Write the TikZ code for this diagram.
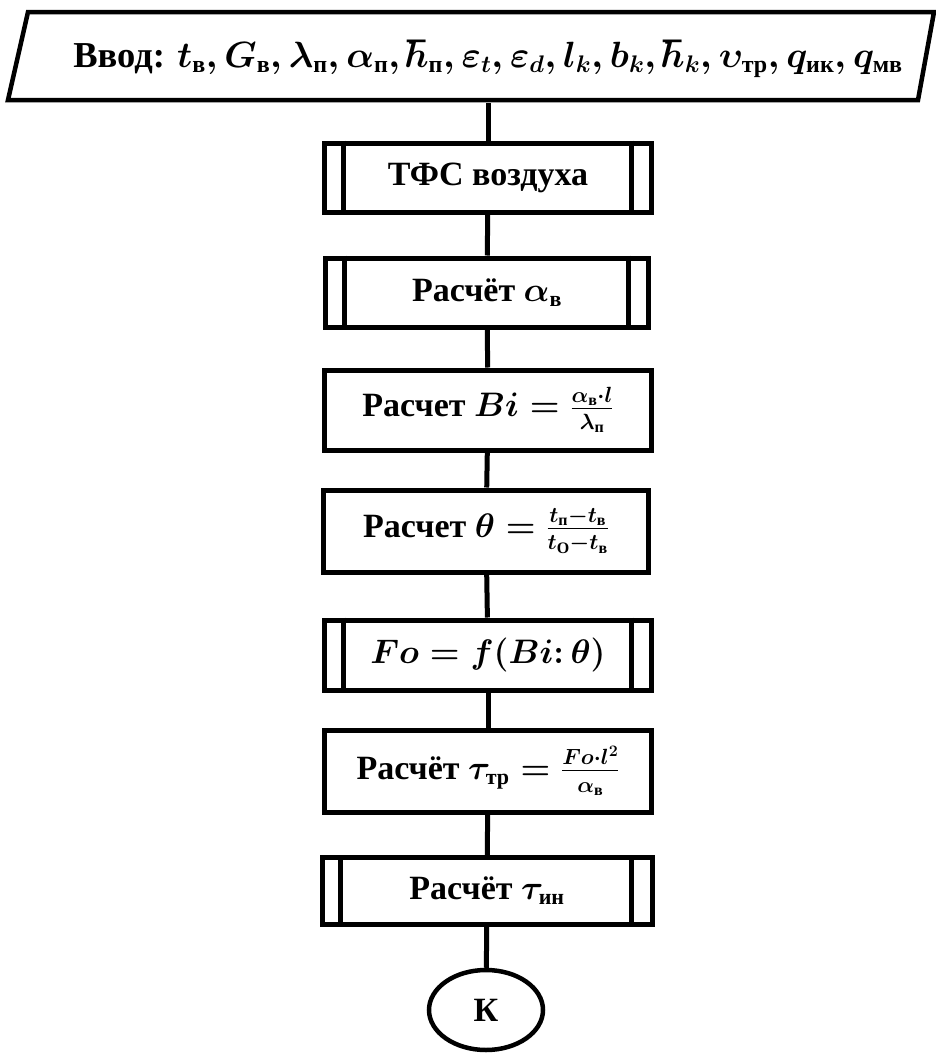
\RequirePackage{fix-cm}
\documentclass[tikz,border=0pt]{standalone}
\usepackage{amsmath}
\usepackage{fontspec}
\setmainfont{Liberation Serif}
\usetikzlibrary{shapes.geometric}
\DeclareMathSizes{34}{34}{22}{16}
\DeclareMathSizes{36.5}{36.5}{24}{18}
\tikzset{
  every node/.style={font=\fontsize{34}{40}\selectfont\bfseries\boldmath},
  blk/.style={draw, line width=5pt, minimum width=327pt, inner sep=0pt, align=center},
  conn/.style={line width=5pt},
  inner/.style={line width=5pt}
}
\newcommand{\tx}[1]{\text{#1}}
\begin{document}
\begin{tikzpicture}[x=1pt,y=-1pt]
\useasboundingbox (0,0) rectangle (936,1055);
% input parallelogram
\draw[line width=4.5pt, line join=miter] (28,12) -- (934,12) -- (918,100) -- (8,100) -- cycle;
\node[minimum width=880pt, minimum height=88pt, inner sep=0pt, font=\fontsize{36.5}{42}\selectfont\bfseries\boldmath] (in) at (488,59)
  {Ввод: $t_{\tx{в}}, G_{\tx{в}}, \lambda_{\tx{п}}, \alpha_{\tx{п}}, \hbar_{\tx{п}}, \varepsilon_t, \varepsilon_d, l_k, b_k, \hbar_k, \upsilon_{\tx{тр}}, q_{\tx{ик}}, q_{\tx{мв}}$};
% blocks
\node[blk, minimum height=69pt] (b1) at (488,177.5) {ТФС воздуха};
\node[blk, minimum height=69pt, minimum width=323pt] (b2) at (487,292.5) {Расчёт $\alpha_{\tx{в}}$};
\node[blk, minimum height=80pt] (b3) at (488,410) {Расчет $Bi = \frac{\alpha_{\tx{в}}\cdot l}{\lambda_{\tx{п}}}$};
\node[blk, minimum height=82pt, minimum width=325pt] (b4) at (486,531) {Расчет $\theta = \frac{t_{\tx{п}}-t_{\tx{в}}}{t_{\mathrm{O}}-t_{\tx{в}}}$};
\node[blk, minimum height=70pt] (b5) at (488,655) {$Fo = f(Bi{:}\,\theta)$};
\node[blk, minimum height=82pt] (b6) at (488,771) {Расчёт $\tau_{\tx{тр}} = \frac{Fo\cdot l^2}{\alpha_{\tx{в}}}$};
\node[blk, minimum height=67pt, minimum width=330pt] (b7) at (487,891) {Расчёт $\tau_{\tx{ин}}$};
\node[draw, ellipse, line width=4.5pt, minimum width=114pt, minimum height=80pt, inner sep=0pt] (k) at (486,1010) {К};
% predefined process side lines
\foreach \b in {b1,b2,b5,b7}{
  \draw[inner] ([xshift=21pt]\b.north west) -- ([xshift=21pt]\b.south west);
  \draw[inner] ([xshift=-23pt]\b.north east) -- ([xshift=-23pt]\b.south east);
}
% connectors
\draw[conn] (in.south) -- (b1.north -| in.south);
\draw[conn] (b1) -- (b2);
\draw[conn] (b2) -- (b3);
\draw[conn] (b3) -- (b4);
\draw[conn] (b4) -- (b5);
\draw[conn] (b5) -- (b6);
\draw[conn] (b6) -- (b7);
\draw[conn] (b7) -- (k);
\end{tikzpicture}
\end{document}
